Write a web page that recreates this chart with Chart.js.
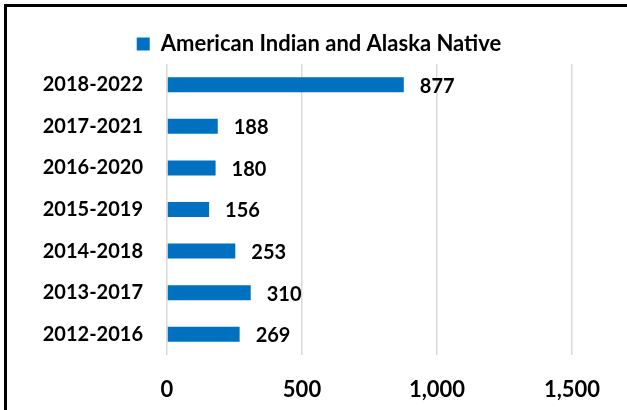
<!DOCTYPE html>
<html>
<head>
<meta charset="utf-8">
<script src="https://cdn.jsdelivr.net/npm/chart.js@4.4.1/dist/chart.umd.min.js"></script>
<style>
    html, body { margin: 0; padding: 0; background: #fff; }
    #wrap { position: relative; width: 627px; height: 410px; overflow: hidden; }
    #frame {
        position: absolute; left: 4px; top: 4px; right: -10px; bottom: -10px;
        border-left: 3px solid #000; border-top: 3px solid #000;
        pointer-events: none;
    }
</style>
</head>
<body>
<div id="wrap">
    <canvas id="chart" width="627" height="410"></canvas>
    <div id="frame"></div>
</div>
<script>
const periods = ['2018-2022', '2017-2021', '2016-2020', '2015-2019', '2014-2018', '2013-2017', '2012-2016'];
const aianValues = [877, 188, 180, 156, 253, 310, 269];
const seriesName = 'American Indian and Alaska Native';
const xTicks = [0, 500, 1000, 1500];

const FONT = 'Lato, "Open Sans", sans-serif';
const barColor = '#0070C0';

// value labels to the right of each bar
const valueLabels = {
    id: 'valueLabels',
    afterDatasetsDraw(chart) {
        const ctx = chart.ctx;
        const meta = chart.getDatasetMeta(0);
        ctx.save();
        ctx.font = 'bold 20px ' + FONT;
        ctx.fillStyle = '#000';
        ctx.textAlign = 'left';
        ctx.textBaseline = 'middle';
        meta.data.forEach((bar, i) => {
            ctx.fillText(aianValues[i].toLocaleString('en-US'), bar.x + 16, bar.y + 1.5);
        });
        ctx.restore();
    }
};

// legend: fixed height, and shifted a bit right of the canvas centre like the original
const legendTweak = {
    id: 'legendTweak',
    beforeLayout(chart) {
        const lg = chart.legend;
        if (lg && !lg._fixed) {
            const fit = lg.fit.bind(lg);
            lg.fit = function () {
                fit();
                this.height = 36;
            };
            lg._fixed = true;
        }
    },
    afterLayout(chart) {
        chart.legend.left += 33;
        chart.legend.right += 33;
    }
};

new Chart(document.getElementById('chart'), {
    type: 'bar',
    data: {
        labels: periods,
        datasets: [{
            label: seriesName,
            data: aianValues,
            backgroundColor: barColor,
            borderWidth: 0,
            barPercentage: 0.36,
            categoryPercentage: 1.0
        }]
    },
    options: {
        indexAxis: 'y',
        responsive: false,
        animation: false,
        layout: { padding: { top: 28, left: 0, right: 55, bottom: 0 } },
        plugins: {
            legend: {
                position: 'top',
                labels: {
                    boxWidth: 13,
                    boxHeight: 13,
                    padding: 5,
                    color: '#000',
                    font: { family: FONT, size: 22, weight: 'bold' }
                }
            },
            tooltip: { enabled: false }
        },
        scales: {
            x: {
                min: 0,
                max: 1500,
                afterBuildTicks(scale) {
                    scale.ticks = xTicks.map(v => ({ value: v }));
                },
                afterFit(scale) { scale.height = 55; },
                border: { display: false },
                grid: { color: '#d9d9d9', lineWidth: 1.5, drawTicks: false },
                ticks: {
                    padding: 22,
                    color: '#000',
                    font: { family: FONT, size: 22, weight: 'bold' },
                    callback: v => v.toLocaleString('en-US')
                }
            },
            y: {
                afterFit(scale) { scale.width = 167; },
                border: { display: false },
                grid: { display: false, drawTicks: false },
                ticks: {
                    padding: 24,
                    color: '#000',
                    font: { family: FONT, size: 20, weight: 'bold' }
                }
            }
        }
    },
    plugins: [valueLabels, legendTweak]
});
</script>
</body>
</html>
